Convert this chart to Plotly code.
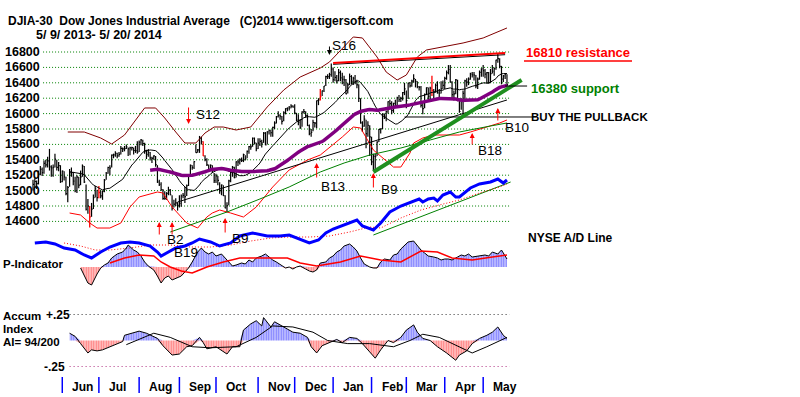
import numpy as np
import pandas as pd
import plotly.graph_objects as go

W, H = 800, 397
FONT = "Liberation Sans, Arial, sans-serif"

# ---------------- trading calendar ----------------
holidays = ["2013-05-27", "2013-07-04", "2013-09-02", "2013-11-28", "2013-12-25",
            "2014-01-01", "2014-01-20", "2014-02-17", "2014-04-18"]
dates = [d for d in pd.bdate_range("2013-05-09", "2014-05-20")
         if d.strftime("%Y-%m-%d") not in holidays]

# ---------------- DJIA daily bars ----------------
close_may13 = [15082,15118,15091,15215,15275,15233,15354,15335,15387,15307,15294,15303,15409,15302,15324,15116]
high_may13 = [15140,15160,15130,15260,15320,15300,15390,15400,15440,15542,15330,15340,15480,15400,15370,15330]
low_may13 = [15000,15040,15020,15080,15200,15190,15220,15300,15300,15260,15180,15180,15300,15260,15250,15100]

close_jun13 = [15254,15177,14960,15040,15248,15238,15122,14995,15176,15070,15179,15318,15112,14758,14800,14659,14760,14910,15024,14910]
high_jun13 = [15260,15250,15180,15060,15280,15300,15240,15180,15200,15180,15260,15340,15320,15080,14890,14800,14840,14950,15060,15010]
low_jun13 = [15110,15130,14940,14850,15050,15180,15070,14980,14970,15030,15070,15180,15100,14740,14700,14520,14660,14760,14910,14860]

close_jul13 = [14975,14932,14988,15136,15225,15300,15291,15460,15465,15484,15451,15471,15548,15543,15545,15568,15542,15555,15559,15521,15520,15500]
high_jul13 = [15060,15000,15000,15150,15240,15310,15330,15470,15480,15510,15490,15500,15580,15560,15580,15600,15560,15570,15570,15560,15580,15640]
low_jul13 = [14900,14900,14880,14980,15140,15220,15200,15300,15420,15440,15420,15440,15470,15500,15510,15540,15450,15460,15520,15470,15490,15480]

close_aug13 = [15628,15658,15612,15518,15470,15498,15425,15419,15451,15337,15112,15081,15010,14897,14897,14963,15010,14946,14776,14824,14840,14810]
high_aug13 = [15650,15670,15660,15620,15530,15540,15500,15440,15460,15450,15330,15140,15110,15020,14990,14980,15050,15020,14940,14880,14900,14850]
low_aug13 = [15500,15590,15580,15480,15410,15440,15390,15360,15400,15310,15100,15060,15000,14880,14880,14880,14940,14940,14740,14780,14800,14740]

close_sep13 = [14834,14930,14938,14922,15063,15191,15327,15300,15376,15494,15529,15677,15636,15452,15401,15334,15273,15329,15258,15130]
high_sep13 = [14940,14950,14970,15050,15080,15200,15340,15330,15380,15600,15540,15710,15700,15640,15460,15420,15340,15340,15330,15230]
low_sep13 = [14780,14790,14900,14840,14930,15060,15180,15270,15280,15490,15490,15490,15600,15450,15380,15320,15250,15260,15230,15100]

close_oct13 = [15191,15133,15000,15073,14936,14776,14803,15127,15237,15301,15168,15373,15372,15400,15392,15468,15413,15509,15570,15569,15680,15619,15546]
high_oct13 = [15220,15190,15110,15080,15070,14940,14850,15140,15250,15320,15310,15380,15400,15420,15430,15480,15460,15520,15580,15600,15690,15690,15620]
low_oct13 = [15100,15070,14960,14940,14930,14770,14720,14810,15110,15180,15160,15170,15320,15340,15370,15370,15390,15420,15480,15530,15570,15600,15510]

close_nov13 = [15616,15640,15618,15747,15594,15762,15784,15751,15822,15876,15962,15977,15967,15900,16009,16065,16073,16073,16097,16086]
high_nov13 = [15680,15680,15660,15760,15760,15770,15790,15790,15830,15900,15970,16030,15990,15970,16030,16070,16080,16100,16120,16110]
low_nov13 = [15540,15580,15560,15620,15590,15600,15730,15700,15700,15800,15870,15950,15920,15860,15900,15990,16030,16040,16070,16080]

close_dec13 = [16008,15915,15889,15822,16021,16025,15973,15844,15740,15756,15885,15875,16168,16179,16221,16295,16358,16479,16479,16505,16577]
high_dec13 = [16120,16010,15990,15930,16030,16060,16030,15990,15860,15800,15920,15890,16170,16200,16320,16300,16360,16490,16510,16530,16650]
low_dec13 = [15990,15900,15850,15800,15830,16000,15950,15840,15720,15700,15770,15820,15810,16110,16170,16230,16280,16360,16450,16450,16480]

close_jan14 = [16441,16470,16426,16531,16463,16445,16437,16257,16374,16482,16418,16459,16414,16374,16198,15880,15838,15929,15739,15849,15699]
high_jan14 = [16600,16550,16500,16580,16560,16530,16490,16450,16400,16520,16500,16480,16500,16440,16380,16200,15900,15980,15920,15900,15850]
low_jan14 = [16400,16420,16390,16420,16420,16380,16360,16250,16260,16370,16380,16370,16380,16330,16150,15870,15760,15830,15550,15700,15450]

close_feb14 = [15373,15445,15441,15629,15795,15802,15994,15964,16027,16154,16130,16040,16134,16104,16208,16180,16199,16273,16322]
high_feb14 = [15700,15480,15480,15640,15800,15810,16000,16000,16040,16160,16180,16160,16140,16180,16220,16240,16220,16280,16400]
low_feb14 = [15330,15260,15230,15450,15630,15740,15800,15930,15900,16000,16080,15990,16010,16080,16100,16150,16150,16170,16240]

close_mar14 = [16168,16396,16361,16422,16453,16418,16351,16341,16108,16065,16248,16337,16222,16331,16303,16276,16368,16268,16264,16323,16367]
high_mar14 = [16300,16400,16410,16440,16510,16450,16420,16360,16360,16150,16260,16340,16340,16350,16490,16320,16390,16420,16320,16420,16430]
low_mar14 = [16070,16190,16340,16350,16400,16340,16330,16300,16080,15990,16070,16240,16150,16190,16230,16200,16270,16260,16200,16260,16320]

close_apr14 = [16458,16533,16573,16413,16246,16257,16438,16170,16027,16174,16263,16425,16409,16449,16514,16502,16501,16361,16449,16535,16581]
high_apr14 = [16480,16560,16630,16630,16420,16300,16450,16440,16180,16200,16300,16440,16460,16470,16530,16540,16540,16500,16470,16560,16590]
low_apr14 = [16320,16440,16510,16400,16200,16170,16250,16160,16010,16050,15960,16180,16350,16370,16440,16470,16430,16330,16320,16440,16480]

close_may14 = [16558,16512,16531,16401,16518,16550,16583,16695,16715,16613,16447,16491,16511,16374]
high_may14 = [16630,16580,16540,16540,16580,16630,16600,16700,16780,16720,16620,16500,16520,16510]
low_may14 = [16480,16460,16390,16390,16400,16520,16490,16570,16660,16590,16380,16410,16450,16350]

closes = (close_may13 + close_jun13 + close_jul13 + close_aug13 + close_sep13 + close_oct13 +
          close_nov13 + close_dec13 + close_jan14 + close_feb14 + close_mar14 + close_apr14 + close_may14)
highs = (high_may13 + high_jun13 + high_jul13 + high_aug13 + high_sep13 + high_oct13 +
         high_nov13 + high_dec13 + high_jan14 + high_feb14 + high_mar14 + high_apr14 + high_may14)
lows = (low_may13 + low_jun13 + low_jul13 + low_aug13 + low_sep13 + low_oct13 +
        low_nov13 + low_dec13 + low_jan14 + low_feb14 + low_mar14 + low_apr14 + low_may14)
n = min(len(dates), len(closes), len(highs), len(lows))
red_bar_days = [31, 36, 93, 157, 218]

# ---------------- bands / lines (day index, value) ----------------
upper_band_day = [19,28,37,43,50,56,61,67,72,78,83,89,94,99,104,111,119,128,137,146,157,162,168,175,180,188,193,199,204,210,215,224,235,246,254,259]
upper_band_val = [15761,15761,15683,15605,15722,15917,16073,16073,15943,15761,15618,15618,15748,15826,15826,15787,15826,16086,16306,16475,16592,16670,16826,16995,16982,16735,16540,16436,16501,16735,16826,16865,16917,16982,17060,17112]
lower_band_day = [20,26,31,35,42,48,53,58,68,71,76,84,90,95,98,102,108,115,122,131,140,150,157,164,169,175,179,186,191,197,201,206,208,213,219,226,233,239,248,255,259]
lower_band_val = [14709,14683,14579,14514,14514,14579,14787,14917,14982,14969,14787,14579,14514,14657,14709,14748,14709,14657,14787,15047,15268,15397,15462,15592,15696,15826,15813,15527,15423,15306,15306,15488,15618,15683,15722,15722,15722,15761,15826,15878,15917]
green_ma_day = [75,91,106,124,140,157,170,184,201,217,233,250,259]
green_ma_val = [14462,14592,14722,14891,15047,15242,15358,15462,15553,15657,15761,15839,15878]

trend_day = [79, 259];  trend_val = [14852, 16177]
pullback_day = [203, 275];  pullback_val = [15956, 15956]
resist_day = [164, 258];  resist_val = [16657, 16787]
resist2_val = [16640, 16765]
support_day = [186, 267];  support_val = [15242, 16436]
support_link_day = [258, 270];  support_link_val = [16358, 16358]

# ---------------- NYSE A/D line ----------------
ad_day = [1,7,12,17,23,28,32,37,42,48,53,58,64,68,70,74,78,83,87,91,97,102,108,113,120,128,135,140,146,151,156,160,164,170,177,180,186,190,195,201,208,211,213,216,219,221,224,228,231,233,239,244,250,254,257,259]
ad_val = [1900,2000,1800,1400,1200,700,400,1000,1500,1900,2000,1900,1600,1000,600,1000,1400,1600,1900,2300,2000,1600,1900,2600,2900,2600,2600,2700,2300,1900,2200,2900,3300,3700,4200,3600,3200,3900,5000,5600,6100,6300,6000,6300,6400,6100,6700,7000,6500,6500,7400,7800,8000,8300,7900,8200]
ad_ma_day = [17,26,34,42,53,64,75,86,97,108,119,130,140,151,162,173,184,190,201,212,222,233,244,255,259]
ad_ma_val = [1900,1600,1200,1200,1400,1700,1700,1500,1500,1700,2100,2400,2500,2500,2600,3000,3500,3400,4400,5200,5700,6200,6900,7500,7800]
ad_trend_day = [186, 261];  ad_trend_val = [2700, 8000]

# ---------------- P-Indicator ----------------
p_day = [26,28,30,32,33,35,37,39,41,43,46,49,51,52,55,57,59,61,63,66,68,70,72,74,76,79,81,83,85,87,90,92,94,96,98,100,103,105,107,109,111,114,116,118,120,122,125,127,129,131,133,136,138,140,142,144,146,149,151,153,155,157,160,162,164,166,168,170,173,175,177,179,181,184,186,188,190,192,195,197,199,201,203,205,208,210,212,214,216,219,221,223,225,227,229,232,234,236,238,240,243,245,247,249,251,254,256,258,259]
p_val = [-10,-90,-160,-180,-140,-70,-10,20,40,90,130,150,190,220,170,150,110,50,10,-30,-90,-160,-110,-90,-130,-110,-90,-50,-10,50,150,190,150,130,150,110,130,90,50,10,20,40,30,70,50,90,110,130,100,70,50,10,-10,0,-20,0,10,-20,-40,-50,-30,40,50,90,110,150,170,210,230,200,160,90,30,0,-10,-10,50,80,70,120,130,180,220,250,260,210,170,140,110,100,90,70,80,80,70,100,120,110,130,100,110,110,120,110,150,130,170,110,80]
p_ma_day = [42,50,58,66,70,75,81,87,91,95,104,113,128,139,146,155,168,179,190,201,212,221,229,240,251,259]
p_ma_val = [40,90,120,110,50,0,-40,-60,-30,0,50,90,90,90,40,10,50,110,70,50,160,150,90,70,100,120]

# ---------------- Accumulation Index ----------------
ai_day = [20,23,26,30,32,35,38,42,46,49,50,54,58,62,68,71,76,80,84,87,91,93,95,100,106,109,113,115,119,122,125,126,130,132,137,142,146,150,152,155,158,162,166,169,173,177,180,184,187,190,194,197,201,204,208,210,213,217,221,226,231,233,237,240,244,248,251,254,257,259]
ai_val = [0.07,0.04,-0.03,-0.12,-0.09,-0.10,-0.09,-0.06,-0.03,-0.01,0.05,0.07,0.09,0.07,0.02,-0.05,-0.14,-0.13,-0.06,-0.05,0.03,-0.02,-0.08,-0.06,-0.13,-0.06,-0.06,0.10,0.16,0.19,0.14,0.22,0.13,0.18,0.13,0.08,0.07,0.03,-0.06,-0.12,-0.05,-0.02,0.01,-0.02,0.03,0.02,-0.03,-0.11,-0.17,-0.09,0.00,-0.02,0.03,0.10,0.15,0.08,0.02,0.00,-0.06,-0.12,-0.19,-0.14,-0.10,-0.03,0.02,0.05,0.08,0.13,0.05,0.02]
ai_ma_day = [51,66,75,87,97,111,122,131,142,153,161,172,184,197,206,213,222,233,240,248,259]
ai_ma_val = [-0.04,0.07,0.03,-0.06,-0.07,-0.06,0.03,0.14,0.13,0.08,0.00,-0.03,-0.03,-0.06,0.00,0.06,0.03,-0.06,-0.12,-0.06,0.03]

price_ticks = [16800,16600,16400,16200,16000,15800,15600,15400,15200,15000,14800,14600]

# signals: (day, head price, tail offset px)
buy_arrows = [(69, 14592, 14), (76, 14592, 14), (105, 14644, 16), (155, 15358, 16),
              (186, 15229, 16), (240, 15748, 13), (254, 16073, 14)]
sell_arrows = [(85, 15865, -18, "red"), (162, 16761, -10, "black")]

# ---------------- figure ----------------
fig = go.Figure()
closes_s = pd.Series(closes[:n], dtype=float)
ma21 = closes_s.rolling(21).mean()
ma65 = closes_s.rolling(65).mean()
days = list(range(n))

def bar_path(idx):
    xs, ys = [], []
    for i in idx:
        xs += [i, i, None, i, i + 0.6, None]
        ys += [lows[i], highs[i], None, closes[i], closes[i], None]
    return xs, ys

black_idx = [i for i in days if i not in red_bar_days]
bx, by = bar_path(black_idx)
fig.add_trace(go.Scatter(x=bx, y=by, mode="lines", line=dict(color="black", width=1.2), hoverinfo="skip"))
rx, ry = bar_path([i for i in red_bar_days if i < n])
fig.add_trace(go.Scatter(x=rx, y=ry, mode="lines", line=dict(color="red", width=1.3), hoverinfo="skip"))

def line(x, y, color, width=1, dash=None, axis="y"):
    fig.add_trace(go.Scatter(x=x, y=y, mode="lines", yaxis=axis,
                             line=dict(color=color, width=width, dash=dash), hoverinfo="skip"))

line(upper_band_day, upper_band_val, "#800000", 1)
line(lower_band_day, lower_band_val, "#ff0000", 1)
line(green_ma_day, green_ma_val, "#008000", 1)
line(trend_day, trend_val, "black", 1)
line(pullback_day, pullback_val, "black", 1)
line(days, ma21, "black", 1)
line(days, ma65, "#800080", 3.5)
line(resist_day, resist2_val, "black", 1)
line(resist_day, resist_val, "#ff0000", 2)
line(support_day, support_val, "#1f8f1f", 4)
line(support_link_day, support_link_val, "black", 1)

# A/D line
line(ad_trend_day, ad_trend_val, "#008000", 1, axis="y2")
line(ad_ma_day, ad_ma_val, "#ff0000", 1, dash="1px,2px", axis="y2")
line(ad_day, ad_val, "#0000ff", 3, axis="y2")

def hist(xd, vals, axis, pos_color, neg_color):
    v = np.array(vals, dtype=float)
    for part, col in ((np.maximum(v, 0), pos_color), (np.minimum(v, 0), neg_color)):
        fig.add_trace(go.Scatter(x=xd, y=part, yaxis=axis, mode="lines", line=dict(width=0, color=col),
                                 fill="tozeroy", fillcolor="rgba(0,0,0,0)",
                                 fillpattern=dict(shape="|", fgcolor=col, bgcolor="rgba(0,0,0,0)",
                                                  size=2.5, solidity=0.7),
                                 hoverinfo="skip"))

hist(p_day, p_val, "y3", "#0000ff", "#ff0000")
line(p_day, p_val, "black", 1, axis="y3")
line(p_ma_day, p_ma_val, "#ff0000", 1.5, axis="y3")

hist(ai_day, ai_val, "y4", "#0000ff", "#ff0000")
line(ai_day, ai_val, "black", 1, axis="y4")
line(ai_ma_day, ai_ma_val, "black", 1, axis="y4")

# ---------------- shapes ----------------
shapes = []
for lvl in price_ticks:
    shapes.append(dict(type="line", xref="x", yref="y", x0=5.5, x1=260.5, y0=lvl, y1=lvl,
                       line=dict(color="#008000", width=1, dash="1px,2px"), layer="below"))
shapes.append(dict(type="line", xref="x", yref="y4", x0=20, x1=260.5, y0=0.25, y1=0.25,
                   line=dict(color="#333333", width=1, dash="1px,3px"), layer="below"))
shapes.append(dict(type="line", xref="x", yref="y4", x0=20, x1=260.5, y0=-0.25, y1=-0.25,
                   line=dict(color="#b03080", width=1, dash="1px,3px"), layer="below"))
month_start = [i for i in range(1, n) if dates[i].month != dates[i - 1].month]
for i in month_start:
    shapes.append(dict(type="line", xref="x", yref="paper", x0=i, x1=i,
                       y0=1 - 393 / H, y1=1 - 377 / H, line=dict(color="#0000ff", width=1.5)))
# underline of the resistance note
shapes.append(dict(type="line", xref="paper", yref="paper", x0=524 / W, x1=632 / W,
                   y0=1 - 61 / H, y1=1 - 61 / H, line=dict(color="#ff0000", width=1.5)))

# ---------------- annotations ----------------
ann = []

def label(text, x, y, size=12, color="black", bold=True, anchor="left"):
    t = f"<b>{text}</b>" if bold else text
    ann.append(dict(text=t, x=x / W, y=1 - y / H, xref="paper", yref="paper", xanchor=anchor,
                    yanchor="middle", showarrow=False, borderpad=0,
                    font=dict(family=FONT, size=size, color=color)))

NB = "\u00a0"
label(f"DJIA-30{NB}{NB}Dow Jones Industrial Average{NB}{NB}{NB}(C)2014 www.tigersoft.com", 7, 21, 12)
label(f"5/{NB}9/{NB}2013-{NB}5/{NB}20/{NB}2014", 35, 35, 12.5)

for lvl in price_ticks:
    ann.append(dict(text=f"<b>{lvl}</b>", x=41 / W, y=lvl, xref="paper", yref="y", xanchor="right",
                    yanchor="middle", showarrow=False, borderpad=0,
                    font=dict(family=FONT, size=12.5, color="black")))

for i in month_start:
    ann.append(dict(text=f"<b>{dates[i].strftime('%b')}</b>", x=i, y=1 - 387 / H, xref="x", yref="paper",
                    xanchor="left", yanchor="middle", xshift=9, showarrow=False, borderpad=0,
                    font=dict(family=FONT, size=12, color="black")))

label("P-Indicator", 2, 264, 11.5)
label("Accum", 2, 316, 11.5)
label("Index", 2, 329, 11.5)
label(f"AI={NB}94/200", 2, 342, 11.5)
label("+.25", 45, 315, 12)
label("-.25", 43, 367, 12)
label("NYSE A/D Line", 527, 238, 12)
label("16810 resistance", 525, 53, 13, "#ff0000")
label("16380 support", 530, 88, 13, "#008000")
label("BUY THE PULLBACK", 530, 117, 11.5)

for txt, x, y in [("S16", 331, 46), ("S12", 195, 115), ("B13", 320, 186), ("B9", 380, 189),
                  ("B9", 231, 238), ("B2", 166, 239), ("B19", 173, 252), ("B18", 477, 150), ("B10", 504, 127)]:
    label(txt, x, y, 13.5, "black", bold=False)

for d, pr, ay in buy_arrows:
    ann.append(dict(x=d, y=pr, xref="x", yref="y", text="", showarrow=True, arrowhead=2, arrowsize=1,
                    arrowwidth=1, arrowcolor="#ff0000", ax=0, ay=ay))
for d, pr, ay, col in sell_arrows:
    ann.append(dict(x=d, y=pr, xref="x", yref="y", text="", showarrow=True, arrowhead=2, arrowsize=1,
                    arrowwidth=1, arrowcolor=col, ax=0, ay=ay))

fig.update_layout(
    width=W, height=H, margin=dict(l=0, r=0, t=0, b=0),
    paper_bgcolor="white", plot_bgcolor="white", showlegend=False,
    font=dict(family=FONT),
    xaxis=dict(range=[-33 / 1.83, 767 / 1.83], visible=False, fixedrange=True),
    yaxis=dict(range=[12319.5, 17475.3], visible=False, domain=[0, 1], fixedrange=True),
    yaxis2=dict(range=[-13500, 26200], overlaying="y", visible=False, fixedrange=True),
    yaxis3=dict(range=[-1300, 2670], overlaying="y", visible=False, fixedrange=True),
    yaxis4=dict(range=[-0.5433, 3.274], overlaying="y", visible=False, fixedrange=True),
    shapes=shapes, annotations=ann,
)

fig.write_html("out.html", config={"displayModeBar": False},
               post_script="document.body.style.margin='0';document.body.style.overflow='hidden';")
